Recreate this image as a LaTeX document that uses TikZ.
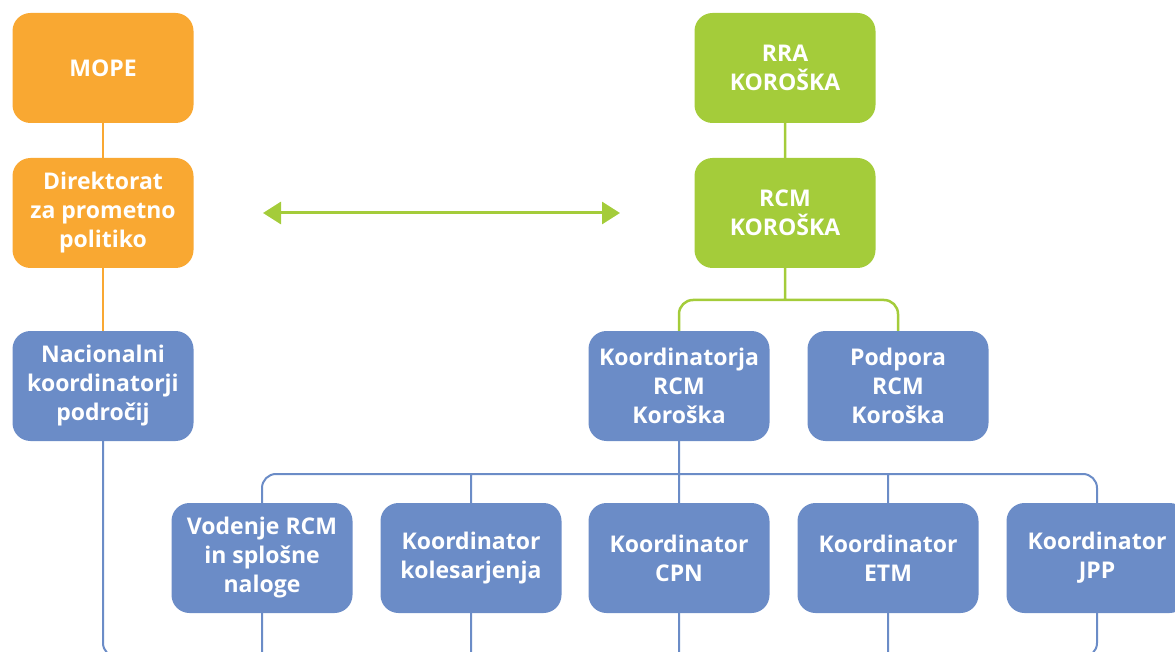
\documentclass[tikz,border=0pt]{standalone}
\usepackage{fontspec}
\setmainfont{Open Sans}
\usetikzlibrary{arrows.meta}
\definecolor{mopeorange}{RGB}{249,168,50}
\definecolor{rcmgreen}{RGB}{164,204,58}
\definecolor{koroblue}{RGB}{107,140,199}
\begin{document}
\begin{tikzpicture}[x=1pt,y=-1pt,
		box/.style={rounded corners=18pt,minimum width=181pt,minimum height=110pt,inner sep=0pt,align=center,text=white,font=\fontsize{23}{29}\selectfont\bfseries},
		orangebox/.style={box,fill=mopeorange},
		greenbox/.style={box,fill=rcmgreen},
		bluebox/.style={box,fill=koroblue},
		link/.style={line width=2pt,rounded corners=14pt}]
					\useasboundingbox (0,0) rectangle (1175,652);
					\clip (0,0) rectangle (1175,652);
					% left column
					\node[orangebox] (mope) at (103,68) {MOPE};
					\node[orangebox] (direk) at (103,213) {Direktorat\\za prometno\\politiko};
					\node[bluebox] (nac) at (103,386) {Nacionalni\\koordinatorji\\področij};
					% right column
					\node[greenbox] (rra) at (785,68) {RRA\\KOROŠKA};
					\node[greenbox] (rcm) at (785,213) {RCM\\KOROŠKA};
					\node[bluebox] (koord) at (679,386) {Koordinatorja\\RCM\\Koroška};
					\node[bluebox] (podpora) at (898,386) {Podpora\\RCM\\Koroška};
					% bottom row
					\node[bluebox] (vodenje) at (262,558) {Vodenje RCM\\in splošne\\naloge};
					\node[bluebox] (kolo) at (471,558) {Koordinator\\kolesarjenja};
					\node[bluebox] (cpn) at (679,558) {Koordinator\\CPN};
					\node[bluebox] (etm) at (888,558) {Koordinator\\ETM};
					\node[bluebox] (jpp) at (1097,558) {Koordinator\\JPP};
					\coordinate (gbus) at (785,300);
					\coordinate (bbus) at (679,474);
					\coordinate (low) at (679,657);
					\coordinate (al) at (263,213);
					\coordinate (ar) at (620,213);
					\draw[link,mopeorange] (mope) -- (direk) (direk) -- (nac);
					\draw[link,rcmgreen,line width=2.5pt] (rra) -- (rcm) (rcm) -- (gbus) (koord.north) |- (gbus) -| (podpora.north);
					\draw[link,koroblue] (koord) -- (cpn) (vodenje.north) |- (bbus) -| (jpp.north) (kolo.north) -- (kolo.north |- bbus) (etm.north) -- (etm.north |- bbus);
					\draw[link,koroblue] (nac.south) |- (low) -| (jpp.south) (vodenje.south) -- (vodenje.south |- low) (kolo.south) -- (kolo.south |- low) (cpn.south) -- (cpn.south |- low) (etm.south) -- (etm.south |- low);
					\draw[rcmgreen,line width=3pt,{Triangle[length=18pt,width=22pt]}-{Triangle[length=18pt,width=22pt]}] (al) -- (ar);
				\end{tikzpicture}
\end{document}
